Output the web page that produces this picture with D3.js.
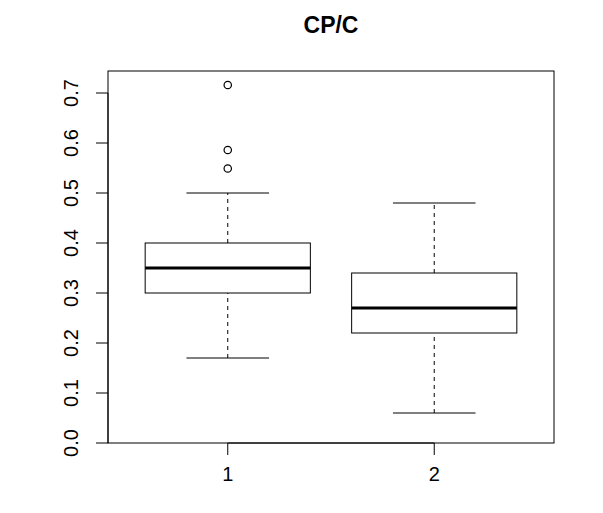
<!DOCTYPE html>
<html>
<head>
<meta charset="utf-8">
<script src="https://cdn.jsdelivr.net/npm/d3@7"></script>
<style>
  body { margin: 0; background: #fff; }
  text { font-family: "Liberation Sans", Arial, sans-serif; }
</style>
</head>
<body>
<svg id="chart" width="603" height="513"></svg>
<script>
// boxplot stats (lower part estimated)
var groups = ["1", "2"]
var whiskerLow = [0.17, 0.06]
var q1 = [0.30, 0.22]
var median = [0.35, 0.27]
var q3 = [0.40, 0.34]
var whiskerHigh = [0.50, 0.48]
var outliers = [[0.716, 0.586, 0.549], []]
var yTicks = [0.0, 0.1, 0.2, 0.3, 0.4, 0.5, 0.6, 0.7]

var svg = d3.select("#chart")
var plotLeft = 108, plotRight = 554, plotTop = 71, plotBottom = 443

// R boxplot: groups at 1..n, xlim 0.5..n+0.5 plus 4%
var n = groups.length
var x = d3.scaleLinear()
  .domain([0.5 - 0.04 * n, n + 0.5 + 0.04 * n])
  .range([plotLeft, plotRight])
var y = d3.scaleLinear()
  .domain([0.0, 0.744])
  .range([plotBottom, plotTop])

svg.append("text")
  .attr("x", (plotLeft + plotRight) / 2)
  .attr("y", 33)
  .attr("text-anchor", "middle")
  .style("font-size", "23px")
  .style("font-weight", "bold")
  .text("CP/C")

// plot frame
svg.append("rect")
  .attr("x", plotLeft).attr("y", plotTop)
  .attr("width", plotRight - plotLeft).attr("height", plotBottom - plotTop)
  .attr("fill", "none").attr("stroke", "#000").attr("stroke-width", 1)

// y axis
var yAxis = svg.append("g")
yAxis.append("line")
  .attr("x1", plotLeft).attr("x2", plotLeft)
  .attr("y1", y(yTicks[0])).attr("y2", y(yTicks[yTicks.length - 1]))
  .attr("stroke", "#000")
yAxis.selectAll(".tick").data(yTicks).enter().append("line")
  .attr("x1", plotLeft - 12).attr("x2", plotLeft)
  .attr("y1", function (d) { return y(d) }).attr("y2", function (d) { return y(d) })
  .attr("stroke", "#000")
yAxis.selectAll(".lab").data(yTicks).enter().append("text")
  .attr("transform", function (d) { return "translate(78," + y(d) + ") rotate(-90)" })
  .attr("text-anchor", "middle")
  .style("font-size", "20px")
  .text(function (d) { return d.toFixed(1) })

// x axis
var xAxis = svg.append("g")
xAxis.append("line")
  .attr("x1", x(1)).attr("x2", x(n))
  .attr("y1", plotBottom).attr("y2", plotBottom)
  .attr("stroke", "#000")
xAxis.selectAll(".tick").data(groups).enter().append("line")
  .attr("x1", function (d, i) { return x(i + 1) }).attr("x2", function (d, i) { return x(i + 1) })
  .attr("y1", plotBottom).attr("y2", plotBottom + 12)
  .attr("stroke", "#000")
xAxis.selectAll(".lab").data(groups).enter().append("text")
  .attr("x", function (d, i) { return x(i + 1) })
  .attr("y", plotBottom + 38)
  .attr("text-anchor", "middle")
  .style("font-size", "20px")
  .text(function (d) { return d })

// boxes
var halfBox = x(1.4) - x(1)
var halfStaple = halfBox / 2
for (let i = 0; i < n; i++) {
  var cx = x(i + 1)
  var g = svg.append("g")
  // whiskers
  g.append("line").attr("x1", cx).attr("x2", cx)
    .attr("y1", y(whiskerLow[i])).attr("y2", y(q1[i]))
    .attr("stroke", "#000").attr("stroke-dasharray", "4,4")
  g.append("line").attr("x1", cx).attr("x2", cx)
    .attr("y1", y(q3[i])).attr("y2", y(whiskerHigh[i]))
    .attr("stroke", "#000").attr("stroke-dasharray", "4,4")
  // staples
  g.append("line").attr("x1", cx - halfStaple).attr("x2", cx + halfStaple)
    .attr("y1", y(whiskerLow[i])).attr("y2", y(whiskerLow[i])).attr("stroke", "#000")
  g.append("line").attr("x1", cx - halfStaple).attr("x2", cx + halfStaple)
    .attr("y1", y(whiskerHigh[i])).attr("y2", y(whiskerHigh[i])).attr("stroke", "#000")
  // box
  g.append("rect")
    .attr("x", cx - halfBox).attr("y", y(q3[i]))
    .attr("width", 2 * halfBox).attr("height", y(q1[i]) - y(q3[i]))
    .attr("fill", "none").attr("stroke", "#000")
  // median
  g.append("line").attr("x1", cx - halfBox).attr("x2", cx + halfBox)
    .attr("y1", y(median[i])).attr("y2", y(median[i]))
    .attr("stroke", "#000").attr("stroke-width", 3)
  // outliers
  g.selectAll("circle").data(outliers[i]).enter().append("circle")
    .attr("cx", cx).attr("cy", function (d) { return y(d) })
    .attr("r", 3.7)
    .attr("fill", "none").attr("stroke", "#000").attr("stroke-width", 1.2)
}
</script>
</body>
</html>
